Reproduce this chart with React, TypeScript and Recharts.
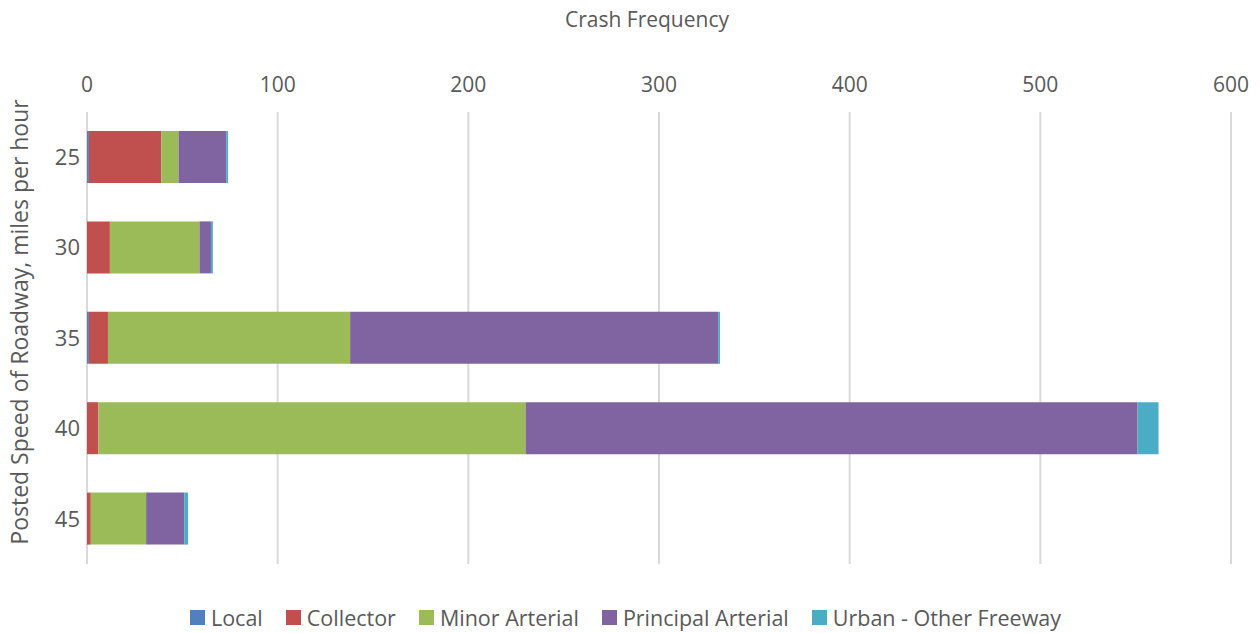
import React from 'react';
import { BarChart, Bar, XAxis, YAxis, CartesianGrid, Legend, Label } from 'recharts';

// Posted speed categories (mph)
const speeds = ['25', '30', '35', '40', '45'];

// Crash counts by functional classification
const local = [1, 0, 1, 0, 0];
const collector = [38, 12, 10, 6, 2];
const minorArterial = [9, 47, 127, 224, 29];
const principalArterial = [25, 6, 193, 321, 20];
const urbanFreeway = [1, 1, 1, 11, 2];

const xTicks = [0, 100, 200, 300, 400, 500, 600];

const seriesNames = ['Local', 'Collector', 'Minor Arterial', 'Principal Arterial', 'Urban - Other Freeway'];
const seriesKeys = ['local', 'collector', 'minor', 'principal', 'urban'];
const seriesColors = ['#4F81BD', '#C0504D', '#9BBB59', '#8064A2', '#4BACC6'];

const data = speeds.map((s, i) => ({
  speed: s,
  local: local[i],
  collector: collector[i],
  minor: minorArterial[i],
  principal: principalArterial[i],
  urban: urbanFreeway[i],
}));

const FONT = '"Open Sans", sans-serif';
const TEXT = '#595959';

const YTitle = (props: any) => {
  const vb = props.viewBox || {};
  const cy = vb.y + vb.height / 2 - 16;
  return (
    <text
      x={19}
      y={cy}
      transform={`rotate(-90, 19, ${cy})`}
      textAnchor="middle"
      dominantBaseline="central"
      fill={TEXT}
      fontSize={23}
      fontFamily={FONT}
    >
      Posted Speed of Roadway, miles per hour
    </text>
  );
};

const XTitle = (props: any) => {
  const vb = props.viewBox || {};
  const cx = vb.x + vb.width / 2;
  return (
    <text x={cx - 12} y={19} textAnchor="middle" dominantBaseline="central" fill={TEXT} fontSize={21} fontFamily={FONT}>
      Crash Frequency
    </text>
  );
};

// Legend in series order
const LegendContent = () => (
  <div
    style={{
      display: 'flex',
      justifyContent: 'center',
      alignItems: 'center',
      paddingTop: 39,
      paddingLeft: 20,
      fontFamily: FONT,
      fontSize: 21.5,
      color: TEXT,
    }}
  >
    {seriesNames.map((n, i) => (
      <div key={n} style={{ display: 'flex', alignItems: 'center', marginRight: i < seriesNames.length - 1 ? 23 : 0 }}>
        <span style={{ display: 'inline-block', width: 15, height: 15, background: seriesColors[i], marginRight: 6 }} />
        <span>{n}</span>
      </div>
    ))}
  </div>
);

export default function App() {
  return (
    <div style={{ position: 'absolute', left: 0, top: 0, background: '#fff' }}>
      <BarChart
        width={1260}
        height={633}
        data={data}
        layout="vertical"
        margin={{ top: 0, right: 29, bottom: 0, left: 0 }}
        barSize={52}
      >
        <CartesianGrid horizontal={false} stroke="#d9d9d9" strokeWidth={2} />
        <XAxis
          type="number"
          orientation="top"
          domain={[0, 600]}
          ticks={xTicks}
          interval={0}
          axisLine={false}
          tickLine={false}
          height={112}
          tickMargin={14}
          tick={{ fill: TEXT, fontSize: 21, fontFamily: FONT }}
        >
          <Label content={<XTitle />} />
        </XAxis>
        <YAxis
          type="category"
          dataKey="speed"
          width={87}
          axisLine={false}
          tickLine={false}
          tickMargin={1}
          tick={{ fill: TEXT, fontSize: 22, fontFamily: FONT }}
        >
          <Label content={<YTitle />} />
        </YAxis>
        <Legend verticalAlign="bottom" height={69} content={<LegendContent />} />
        {seriesKeys.map((k, i) => (
          <Bar
            key={k}
            dataKey={k}
            name={seriesNames[i]}
            stackId="a"
            fill={seriesColors[i]}
            isAnimationActive={false}
          />
        ))}
      </BarChart>
    </div>
  );
}
